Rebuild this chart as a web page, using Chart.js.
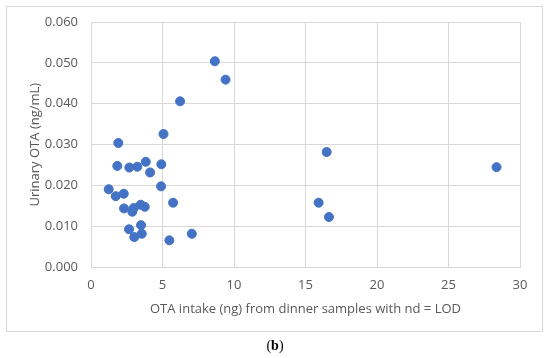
<!DOCTYPE html>
<html>
<head>
<meta charset="utf-8">
<script src="https://cdn.jsdelivr.net/npm/chart.js@4/dist/chart.umd.min.js"></script>
<style>
  html,body{margin:0;padding:0;background:#fff;}
  #wrap{position:relative;width:550px;height:358px;}
  #cap{position:absolute;left:0;width:550px;top:338px;text-align:center;font-family:"Liberation Serif",serif;font-size:14px;color:#000;}
</style>
</head>
<body>
<div id="wrap">
<canvas id="c" width="550" height="358"></canvas>
<div id="cap">(<b>b</b>)</div>
</div>
<script>
const xIntake = [8.66, 9.41, 6.23, 5.07, 1.91, 1.84, 2.68, 3.24, 3.83, 4.92, 4.13, 4.90, 1.24, 1.73, 2.29, 5.74, 2.31, 2.99, 2.89, 3.48, 3.76, 2.66, 3.50, 3.03, 3.55, 5.48, 7.05, 16.48, 28.36, 15.92, 16.64];
const yUrinary = [0.0504, 0.0459, 0.0406, 0.0326, 0.0304, 0.0248, 0.0244, 0.0246, 0.0258, 0.0252, 0.0232, 0.0198, 0.0191, 0.0174, 0.0180, 0.0158, 0.0144, 0.0145, 0.0136, 0.0153, 0.0148, 0.0093, 0.0103, 0.0074, 0.0082, 0.0066, 0.0082, 0.0282, 0.0245, 0.0158, 0.0123];
const xTitle = "OTA intake (ng) from dinner samples with nd = LOD";
const yTitle = "Urinary OTA (ng/mL)";

const points = xIntake.map((x, i) => ({x: x, y: yUrinary[i]}));
const FONT = "'Open Sans', sans-serif";

const framePlugin = {
  id: 'frame',
  beforeDraw(chart) {
    const ctx = chart.ctx;
    ctx.save();
    ctx.fillStyle = '#fff';
    ctx.fillRect(0, 0, chart.width, chart.height);
    ctx.strokeStyle = '#D9D9D9';
    ctx.lineWidth = 1;
    ctx.strokeRect(6.5, 6.5, 536, 325);
    ctx.restore();
  }
};

new Chart(document.getElementById('c'), {
  type: 'scatter',
  data: {
    datasets: [{
      data: points,
      backgroundColor: '#4472C4',
      borderColor: '#4472C4',
      pointRadius: 4.5,
      pointHoverRadius: 4.5
    }]
  },
  options: {
    responsive: false,
    animation: false,
    events: [],
    layout: {padding: {left: 27, top: 22, right: 30, bottom: 26}},
    plugins: {legend: {display: false}, tooltip: {enabled: false}},
    scales: {
      x: {
        type: 'linear', min: 0, max: 30,
        ticks: {stepSize: 5, color: '#595959', font: {family: FONT, size: 13}, padding: 10},
        grid: {color: '#D9D9D9', drawTicks: false},
        border: {color: '#D9D9D9'},
        title: {display: true, text: xTitle, color: '#595959', font: {family: FONT, size: 13}, padding: {top: 4, bottom: 15}},
        afterFit(s) { s.height = 64.7; }
      },
      y: {
        type: 'linear', min: 0, max: 0.06,
        ticks: {stepSize: 0.01, color: '#595959', font: {family: FONT, size: 13}, padding: 13,
          callback: v => Number(v).toFixed(3)},
        grid: {color: '#D9D9D9', drawTicks: false},
        border: {color: '#D9D9D9'},
        title: {display: true, text: yTitle, color: '#595959', font: {family: FONT, size: 13}, padding: 0},
        afterFit(s) { s.width = 64; }
      }
    }
  },
  plugins: [framePlugin]
});
</script>
</body>
</html>
